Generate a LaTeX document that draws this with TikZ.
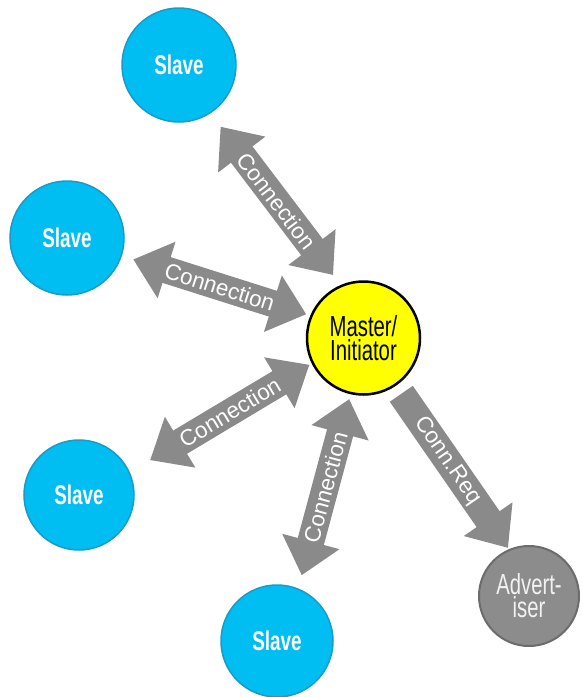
\documentclass[tikz,border=0pt]{standalone}
\usepackage{fontspec}
\setmainfont{Liberation Sans}
\newfontfamily\narrowfont[FakeStretch=0.7]{Liberation Sans}
\usetikzlibrary{arrows.meta}

\definecolor{slavefill}{RGB}{0,190,242}
\definecolor{slaveborder}{RGB}{25,155,200}
\definecolor{masterfill}{RGB}{255,255,0}
\definecolor{advfill}{RGB}{140,140,140}
\definecolor{advborder}{RGB}{108,108,108}
\definecolor{advtext}{RGB}{242,242,242}
\definecolor{arrowgray}{RGB}{138,138,138}

\tikzset{
  slave/.style={circle, draw=slaveborder, line width=1.5pt, fill=slavefill,
    minimum size=#1, inner sep=0pt, outer sep=0pt, text=white,
    font=\narrowfont\bfseries\fontsize{27}{27}\selectfont},
  master/.style={circle, draw=black, line width=2.5pt, fill=masterfill,
    minimum size=113pt, inner sep=0pt, outer sep=0pt, text=black, align=center,
    font=\narrowfont\fontsize{29}{24}\selectfont},
  advertiser/.style={circle, draw=advborder, line width=2pt, fill=advfill,
    minimum size=100pt, inner sep=0pt, outer sep=0pt, text=advtext, align=center,
    font=\narrowfont\fontsize{29}{23}\selectfont},
  fathead/.tip={Triangle[length=35pt,width=57pt]},
  link/.style={draw=arrowgray, line width=27pt, fathead-fathead},
  request/.style={draw=arrowgray, line width=28pt, -fathead},
  linklabel/.style={sloped, text=white, inner sep=0pt,
    font=\fontsize{22.5}{22.5}\selectfont}
}

\begin{document}
\begin{tikzpicture}[x=1pt, y=-1pt]
  \useasboundingbox (0,0) rectangle (582,697);

  % devices
  \node[slave=114pt] (s1) at (179,65)  {Slave};
  \node[slave=114pt] (s2) at (67,238)  {Slave};
  \node[slave=110pt] (s3) at (79,495)  {Slave};
  \node[slave=112pt] (s4) at (277,641) {Slave};
  \node[master] (m) at (363.5,338) {Master/\\Initiator};
  \node[advertiser] (adv) at (529,596) {Advert-\\iser};

  % connections between master and slaves
  \draw[link, shorten <=17.4pt, shorten >=13.8pt]
    (s1.-57.8) -- node[linklabel, pos=0.508] {Connection} (m.113);
  \draw[link, shorten <=12.6pt, shorten >=5.5pt]
    (s2.-18.6) -- node[linklabel, pos=0.518] {Connection} (m.157.8);
  \draw[link, shorten <=24.3pt, shorten >=3.9pt]
    (s3.24) -- node[linklabel, pos=0.548] {Connection} (m.-154.9);
  \draw[link, shorten <=14.3pt, shorten >=6.2pt]
    (s4.68.8) -- node[linklabel, pos=0.52] {Connection} (m.-103.2);

  % connection request towards the advertiser
  \draw[request, shorten <=10.9pt, shorten >=2.5pt]
    (m.-56.4) -- node[linklabel, pos=0.46] {Conn.Req} (adv.113.1);
\end{tikzpicture}
\end{document}
